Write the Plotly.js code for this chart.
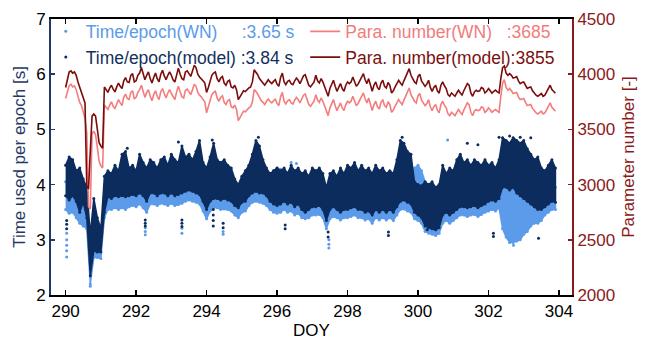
<!DOCTYPE html>
<html><head><meta charset="utf-8">
<script src="https://cdn.plot.ly/plotly-3.0.1.min.js"></script>
<style>html,body{margin:0;padding:0;background:#fff}#chart{width:647px;height:341px}</style>
</head><body><div id="chart"></div>
<script>
// ---- Parameter number lines (DOY grid start 290.00, step 0.05) ----
const paraStart = 290.0, paraStep = 0.05;
const paraModel = [
3880,3960,4020,4030,4010,4020,3990,3930,3880,3850,
3800,3740,2990,2960,3300,3620,3640,3620,3500,3380,
3350,3330,3885,3860,3835,3875,3900,3865,3840,3885,
3920,3890,3870,3940,3970,3930,3925,3990,4005,3930,
3940,3990,4010,4060,3990,3950,3990,4020,3960,3920,
3970,4010,3960,3930,4000,4035,3985,3950,3990,4020,
3990,3950,3930,4000,4055,4000,3960,3950,4020,4030,
4000,3980,4030,4080,4060,4000,3975,3960,3940,3920,
3835,3880,3945,3990,4010,4020,3960,3930,3965,3980,
3920,3900,3935,3945,3885,3875,3900,3860,3770,3800,
3830,3850,3842,3860,3875,3885,3930,4040,4020,3995,
3960,3935,3920,3900,3930,3950,3930,3915,3935,3950,
3910,3890,3970,4010,3930,3905,3935,3945,3915,3905,
3940,3965,3945,3915,3950,3985,3995,3940,3900,3885,
3910,3930,3990,3940,3920,3960,3930,3880,3830,3800,
3870,3910,3945,3890,3845,3880,3915,3870,3845,3900,
3930,3915,3930,3975,3940,3890,3910,3945,3970,4005,
3950,3915,3960,3890,3845,3900,3930,3880,3860,3920,
3945,3890,3875,3925,3900,3830,3850,3885,3920,3945,
3920,3900,3940,3975,4010,4050,3990,3960,3930,3915,
3980,4000,3940,3915,3890,3910,3945,3880,3845,3880,
3900,3850,3828,3900,3930,3895,3870,3815,3800,3830,
3815,3800,3830,3855,3830,3812,3850,3885,3915,3900,
3830,3800,3840,3855,3845,3850,3880,3870,3830,3845,
3870,3850,3828,3845,3857,3840,3830,3960,4060,4075,
4010,3990,4005,3990,3965,3970,3978,3940,3915,3925,
3930,3900,3872,3880,3885,3850,3825,3810,3800,3815,
3825,3800,3810,3840,3870,3900,3860,3840,3827];
const paraWN = [
3780,3850,3895,3910,3885,3895,3860,3800,3745,3715,
3660,3600,3470,2800,2780,3460,3485,3450,3340,3210,
3170,3150,3720,3700,3680,3720,3750,3710,3690,3730,
3770,3740,3715,3790,3820,3780,3770,3835,3850,3775,
3790,3835,3860,3900,3830,3790,3835,3860,3800,3760,
3815,3850,3800,3770,3840,3870,3825,3785,3830,3860,
3825,3790,3770,3840,3890,3840,3795,3785,3855,3865,
3835,3815,3860,3910,3890,3835,3810,3795,3770,3750,
3650,3700,3770,3815,3835,3845,3785,3755,3790,3805,
3745,3725,3760,3770,3705,3695,3720,3680,3580,3610,
3645,3665,3660,3680,3695,3705,3750,3860,3845,3820,
3785,3760,3745,3725,3755,3775,3755,3740,3760,3775,
3735,3715,3795,3835,3755,3730,3760,3770,3740,3730,
3765,3790,3770,3740,3775,3810,3820,3765,3725,3710,
3735,3755,3815,3765,3745,3785,3755,3705,3655,3625,
3695,3735,3770,3715,3670,3705,3740,3695,3670,3725,
3755,3740,3755,3800,3765,3715,3735,3770,3795,3830,
3775,3740,3785,3715,3670,3725,3755,3705,3685,3745,
3770,3715,3700,3750,3725,3655,3675,3710,3745,3770,
3745,3725,3765,3800,3835,3875,3815,3785,3755,3740,
3805,3825,3765,3740,3715,3735,3770,3705,3670,3705,
3725,3675,3650,3725,3755,3720,3695,3640,3625,3655,
3640,3625,3655,3680,3655,3635,3675,3710,3740,3725,
3655,3625,3665,3680,3670,3675,3705,3695,3655,3670,
3695,3675,3655,3670,3680,3665,3655,3800,3920,3950,
3880,3855,3870,3850,3825,3830,3835,3795,3770,3775,
3780,3745,3715,3720,3725,3690,3665,3650,3640,3655,
3665,3640,3650,3680,3710,3740,3700,3680,3665];

// ---- Time per epoch clouds (DOY grid start 290.0, step 0.1): upper / lower edge ----
const timeStart = 290.0, timeStep = 0.1;
const modelHi = [4.35,4.50,4.45,4.25,4.30,4.10,3.95,3.10,3.75,3.40,
3.20,4.15,4.25,4.20,4.35,4.25,4.55,4.60,4.30,4.35,
4.25,4.55,4.40,4.30,4.45,4.40,4.30,4.45,4.50,4.35,
4.55,4.45,4.40,4.70,4.50,4.55,4.45,4.60,4.80,4.40,
4.30,4.50,4.75,4.45,4.40,4.45,4.35,4.30,4.10,4.00,
4.15,4.25,4.35,4.55,4.80,4.70,4.45,4.30,4.20,4.25,
4.30,4.25,4.30,4.20,4.35,4.25,4.30,4.20,4.25,4.15,
4.30,4.25,4.30,4.20,3.95,4.20,4.25,4.15,4.30,4.20,
4.35,4.30,4.40,4.25,4.35,4.25,4.30,4.20,4.35,4.25,
4.30,4.20,4.25,4.20,4.45,4.80,4.75,4.60,4.55,4.05,
4.00,3.98,4.05,4.00,4.05,3.95,4.00,4.35,4.20,4.30,
4.25,4.45,4.55,4.40,4.45,4.35,4.45,4.40,4.35,4.45,
4.35,4.40,4.30,4.45,4.85,4.80,4.75,4.85,4.80,4.75,
4.80,4.65,4.55,4.45,4.50,4.30,4.25,4.35,4.45,4.30];
const modelLo = [3.80,3.72,3.80,3.70,3.50,3.68,3.40,2.35,2.80,2.78,
2.78,3.50,3.78,3.75,3.80,3.78,3.80,3.78,3.80,3.82,
3.80,3.85,3.80,3.70,3.85,3.85,3.80,3.85,3.85,3.80,
3.85,3.80,3.82,3.85,3.88,3.90,3.88,3.85,3.82,3.70,
3.55,3.70,3.75,3.75,3.72,3.75,3.72,3.70,3.62,3.58,
3.68,3.70,3.80,3.85,3.88,3.85,3.85,3.80,3.70,3.65,
3.62,3.65,3.70,3.65,3.68,3.60,3.65,3.55,3.50,3.55,
3.60,3.60,3.62,3.55,3.35,3.55,3.60,3.55,3.50,3.55,
3.55,3.58,3.60,3.55,3.55,3.50,3.52,3.45,3.55,3.50,
3.55,3.50,3.55,3.50,3.60,3.70,3.72,3.68,3.65,3.50,
3.45,3.40,3.25,3.22,3.20,3.18,3.22,3.45,3.50,3.45,
3.50,3.55,3.60,3.60,3.58,3.60,3.62,3.58,3.62,3.65,
3.70,3.72,3.70,3.75,3.95,3.95,3.90,3.95,3.85,3.80,
3.75,3.70,3.65,3.60,3.55,3.55,3.60,3.65,3.70,3.68];
const wnHi = [4.05,4.10,4.05,3.95,3.90,3.85,3.70,2.90,3.40,3.20,
3.05,3.85,3.90,3.90,3.95,3.90,4.10,4.10,3.95,3.95,
3.90,4.10,4.00,3.95,4.05,4.00,3.95,4.05,4.05,4.00,
4.10,4.05,4.00,4.15,4.10,4.10,4.05,4.10,4.20,4.00,
3.90,4.05,4.15,4.05,4.00,4.05,3.95,3.95,3.85,3.80,
3.85,3.95,4.00,4.10,4.20,4.20,4.10,4.05,4.15,4.25,
4.30,4.28,4.25,4.22,4.30,4.25,4.20,4.05,4.00,3.90,
4.00,3.95,4.00,3.95,3.75,3.95,3.95,3.90,3.95,3.90,
4.00,4.00,4.05,3.95,4.00,3.95,3.95,3.90,4.00,3.95,
3.95,3.90,3.95,3.90,4.05,4.20,4.20,4.15,4.20,4.30,
4.35,4.25,4.05,3.85,3.85,3.80,3.80,4.00,3.95,4.00,
3.95,4.05,4.10,4.05,4.05,4.00,4.05,4.00,4.00,4.05,
4.05,4.05,4.00,4.10,4.05,4.00,3.95,3.95,4.00,4.05,
4.10,4.05,4.00,3.95,3.95,3.90,3.90,3.95,4.00,3.95];
const wnLo = [3.55,3.48,3.50,3.40,3.30,3.25,3.20,2.20,2.68,2.68,
2.66,3.40,3.55,3.55,3.58,3.55,3.58,3.55,3.60,3.62,
3.60,3.65,3.58,3.50,3.65,3.65,3.62,3.66,3.65,3.62,
3.66,3.62,3.64,3.66,3.70,3.72,3.70,3.68,3.65,3.52,
3.38,3.52,3.58,3.58,3.55,3.56,3.55,3.52,3.45,3.40,
3.50,3.52,3.62,3.68,3.70,3.68,3.66,3.62,3.55,3.50,
3.48,3.50,3.55,3.50,3.52,3.45,3.48,3.40,3.38,3.40,
3.45,3.45,3.46,3.40,3.20,3.38,3.42,3.40,3.36,3.40,
3.40,3.42,3.45,3.40,3.40,3.36,3.38,3.30,3.40,3.36,
3.40,3.36,3.40,3.35,3.45,3.55,3.56,3.52,3.50,3.38,
3.35,3.30,3.15,3.12,3.10,3.08,3.12,3.30,3.35,3.30,
3.35,3.40,3.45,3.45,3.42,3.45,3.46,3.42,3.46,3.50,
3.52,3.55,3.52,3.58,3.20,3.05,2.95,2.95,2.98,3.00,
3.10,3.15,3.25,3.30,3.30,3.35,3.45,3.50,3.55,3.55];

// ---- isolated points outside the dense clouds ----
const modelOutX = [290.03,290.03,290.03,292.26,292.26,292.26,293.30,293.30,293.30,294.19,294.19,294.19,294.19,294.47,294.47,296.23,296.23,297.45,297.45,299.16,299.16,300.26,302.14,302.14,303.42,
293.20,294.16,295.47,299.55,301.40,301.70,302.30,302.60,302.90,303.20,291.75];
const modelOutY = [3.35,3.28,3.20,3.36,3.30,3.25,3.36,3.30,3.24,3.55,3.45,3.35,3.25,3.30,3.22,3.27,3.20,3.14,3.05,3.14,3.08,3.18,3.12,3.06,3.03,
4.77,4.81,4.86,4.86,4.75,4.72,4.86,4.88,4.86,4.85,4.66];
const wnOutX = [290.03,290.03,290.03,290.03,290.03,292.26,292.26,292.26,293.30,293.30,294.47,294.47,297.47,297.47,297.47,302.71,300.84,290.70,296.40,296.55];
const wnOutY = [3.12,3.00,2.90,2.80,2.69,3.22,3.15,3.09,3.21,3.12,3.15,3.10,3.00,2.92,2.85,2.90,4.81,2.16,4.40,4.38];

const legendNames = {
  wn: '<span style="color:#5b9bea">Time/epoch(WN)\u00a0\u00a0\u00a0\u00a0\u00a0:3.65 s</span>',
  model: '<span style="color:#13305f">Time/epoch(model)\u00a0:3.84 s</span>',
  pwn: '<span style="color:#f07c7c">Para. number(WN)\u00a0\u00a0\u00a0:3685</span>',
  pmodel: '<span style="color:#7a1010">Para. number(model):3855</span>'
};

const C = {lb:'#5b9bea', navy:'#0c2c5e', lr:'#f47c7c', dr:'#7a0c0c'};

function grid(start, step, n){ const a=[]; for(let i=0;i<n;i++) a.push(+(start+step*i).toFixed(3)); return a; }
const tx = grid(timeStart, timeStep, modelHi.length);
const px = grid(paraStart, paraStep, paraModel.length);
function band(hi, lo){
  return {x: tx.concat(tx.slice().reverse()), y: hi.concat(lo.slice().reverse())};
}
const bw = band(wnHi, wnLo), bm = band(modelHi, modelLo);

const traces = [
  {type:'scatter', mode:'lines+markers', x:bw.x, y:bw.y, fill:'toself', fillcolor:C.lb, line:{color:C.lb, width:1.5}, marker:{color:C.lb, size:3}, showlegend:false, hoverinfo:'skip'},
  {type:'scatter', mode:'lines+markers', x:bm.x, y:bm.y, fill:'toself', fillcolor:C.navy, line:{color:C.navy, width:1.5}, marker:{color:C.navy, size:3}, showlegend:false, hoverinfo:'skip'},
  {type:'scatter', mode:'markers', x:wnOutX, y:wnOutY, marker:{color:C.lb, size:3}, name:legendNames.wn, legend:'legend'},
  {type:'scatter', mode:'markers', x:modelOutX, y:modelOutY, marker:{color:C.navy, size:3}, name:legendNames.model, legend:'legend'},
  {type:'scatter', mode:'lines', x:px, y:paraWN, yaxis:'y2', line:{color:C.lr, width:1.6}, name:legendNames.pwn, legend:'legend2'},
  {type:'scatter', mode:'lines', x:px, y:paraModel, yaxis:'y2', line:{color:C.dr, width:1.6}, name:legendNames.pmodel, legend:'legend2'}
];

const fam = 'Arial, "Liberation Sans", sans-serif';
const layout = {
  width:647, height:341,
  margin:{l:51, r:75, t:19, b:46},
  paper_bgcolor:'#fff', plot_bgcolor:'#fff',
  font: {family:fam, size:17, color:'#000'},
  showlegend:true,
  xaxis:{range:[289.585, 304.37], tickvals:[290,292,294,296,298,300,302,304], ticks:'inside', ticklen:5, tickwidth:1.5, tickcolor:'#000',
    showline:true, linecolor:'#000', linewidth:2, mirror:'ticks', showgrid:false, zeroline:false,
    tickfont:{family:fam, size:17, color:'#000'},
    title:{text:'DOY', font:{family:fam, size:17, color:'#000'}, standoff:4}},
  yaxis:{range:[2,7], tickvals:[2,3,4,5,6,7], ticks:'inside', ticklen:4, tickwidth:1.5, tickcolor:'#1f3864',
    showline:true, linecolor:'#1f3864', linewidth:2, showgrid:false, zeroline:false,
    tickfont:{family:fam, size:17, color:'#000'},
    title:{text:'Time used per epoch [s]', font:{family:fam, size:17, color:'#1f3864'}, standoff:6}},
  yaxis2:{range:[2000,4500], tickvals:[2000,2500,3000,3500,4000,4500], overlaying:'y', side:'right', ticks:'inside', ticklen:4, tickwidth:1.5, tickcolor:'#8b1a1a',
    showline:true, linecolor:'#8b1a1a', linewidth:2, showgrid:false, zeroline:false,
    tickfont:{family:fam, size:17, color:'#8b1a1a'},
    title:{text:'Parameter number [-]', font:{family:fam, size:17, color:'#8b1a1a'}, standoff:8}},
  legend:{x:-0.01, y:1.02, xanchor:'left', yanchor:'top', bgcolor:'rgba(0,0,0,0)', font:{family:fam, size:17.5}, tracegroupgap:0},
  legend2:{x:0.488, y:1.02, xanchor:'left', yanchor:'top', bgcolor:'rgba(0,0,0,0)', font:{family:fam, size:17.5}, tracegroupgap:0}
};
Plotly.newPlot('chart', traces, layout, {staticPlot:true, displayModeBar:false});
</script></body></html>
